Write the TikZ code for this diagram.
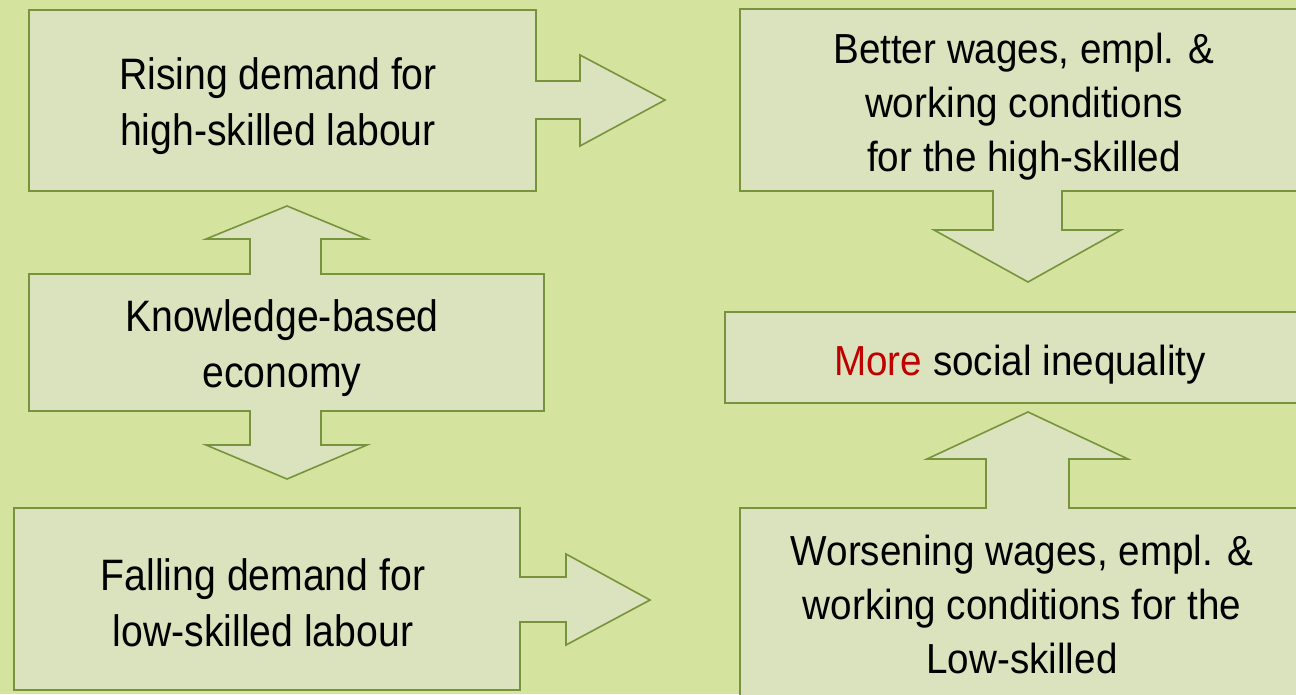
\documentclass[tikz,border=0pt]{standalone}
\usepackage{fontspec}
\setmainfont{Liberation Sans}
\newfontfamily\narrowfont[FakeStretch=0.89]{Liberation Sans}
\newfontfamily\rightfont[FakeStretch=0.92]{Liberation Sans}
\definecolor{bgc}{RGB}{212,228,158}
\definecolor{boxfill}{RGB}{218,227,190}
\definecolor{boxline}{RGB}{119,147,60}
\definecolor{redtxt}{RGB}{192,0,0}
\tikzset{
  shp/.style={fill=boxfill,draw=boxline,line width=1.6pt,line join=miter},
  lefttxt/.style={align=center,font=\narrowfont\fontsize{44}{56}\selectfont,inner sep=0pt},
  righttxt/.style={align=center,font=\rightfont\fontsize{42}{54}\selectfont,inner sep=0pt}
}
\begin{document}
\begin{tikzpicture}[x=1pt,y=-1pt]
\useasboundingbox (0,0) rectangle (1296,694);
\fill[bgc] (0,0) rectangle (1296,694);
\clip (0,0) rectangle (1296,694);
% Rising demand box with right arrow
\draw[shp] (29,10) -- (536,10) -- (536,81) -- (580,81) -- (580,55) -- (665,100) -- (580,146) -- (580,119) -- (536,119) -- (536,191) -- (29,191) -- cycle;
% Knowledge box with up and down arrows
\draw[shp] (29,274) -- (250,274) -- (250,239) -- (206,239) -- (287,206) -- (367,239) -- (321,239) -- (321,274) -- (544,274) -- (544,411) -- (321,411) -- (321,445) -- (367,445) -- (287,479) -- (206,445) -- (250,445) -- (250,411) -- (29,411) -- cycle;
% Falling demand box with right arrow
\draw[shp] (14,508) -- (520,508) -- (520,577) -- (566,577) -- (566,554) -- (650,600) -- (566,645) -- (566,622) -- (520,622) -- (520,690) -- (14,690) -- cycle;
% Better wages box with down arrow
\draw[shp] (740,9) -- (1310,9) -- (1310,191) -- (1062,191) -- (1062,230) -- (1121,230) -- (1028,282) -- (934,230) -- (993,230) -- (993,191) -- (740,191) -- cycle;
% More social inequality box
\draw[shp] (725,312) rectangle (1310,403);
% Worsening box with up arrow
\draw[shp] (740,508) -- (986,508) -- (986,459) -- (927,459) -- (1028,412) -- (1128,459) -- (1069,459) -- (1069,508) -- (1310,508) -- (1310,710) -- (740,710) -- cycle;
% texts
\node[lefttxt] (rising) at (278,106) {Rising demand for\\high-skilled labour};
\node[lefttxt] (know) at (282,348) {Knowledge-based\\economy};
\node[lefttxt] (fall) at (263,603) {Falling demand for\\low-skilled labour};
\node[righttxt] (better) at (1024,107) {Better wages, empl. \&\\working conditions\\ for the high-skilled};
\node[righttxt] (more) at (1020,365) {\textcolor{redtxt}{More} social inequality};
\node[righttxt] (worse) at (1022,604) {Worsening wages, empl. \&\\ working conditions for the\\ Low-skilled};
\end{tikzpicture}
\end{document}
